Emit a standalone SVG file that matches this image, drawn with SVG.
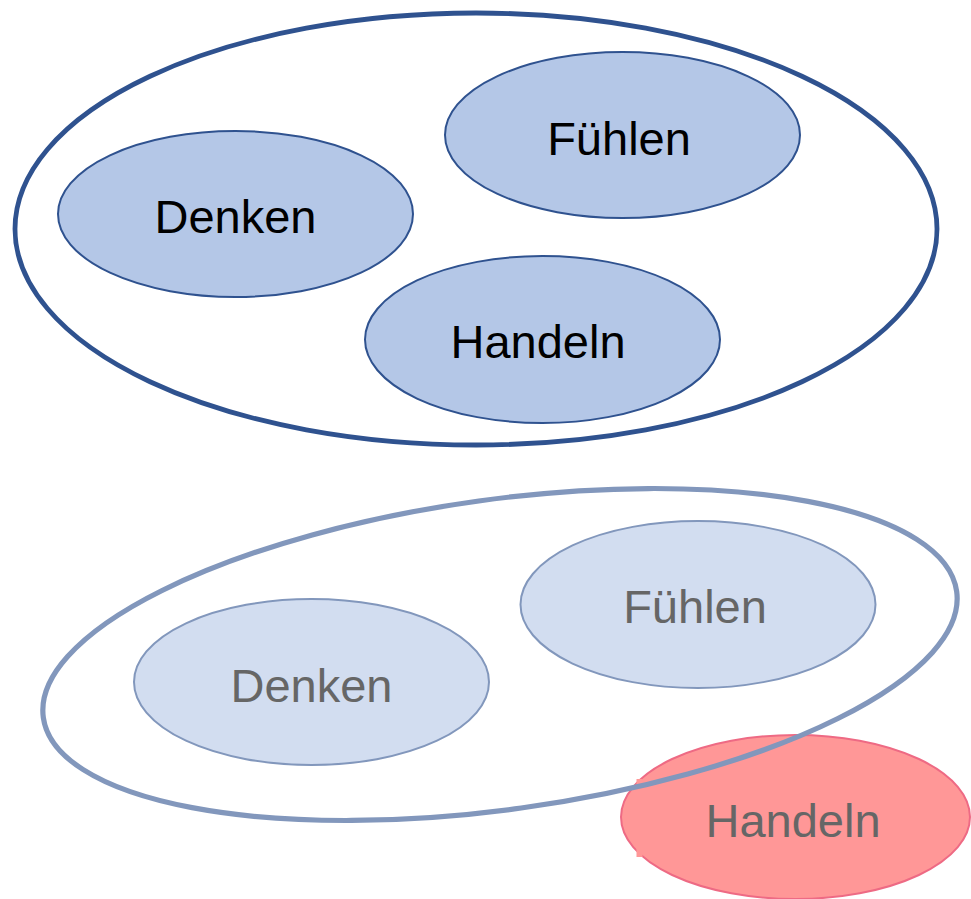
<svg xmlns="http://www.w3.org/2000/svg" width="971" height="899" viewBox="0 0 971 899">
<style>
.outer{fill:none;stroke:#2F528F;stroke-width:4.8}
.outer2{fill:none;stroke:#8297BC;stroke-width:5.2}
.node{fill:#B4C7E7;stroke:#2F528F;stroke-width:2}
.node2{fill:#D2DDF0;stroke:#8297BC;stroke-width:2}
.lbl{font-family:"Liberation Sans",Arial,sans-serif;font-size:47px;text-anchor:middle;fill:#000}
.lbl2{font-family:"Liberation Sans",Arial,sans-serif;font-size:47px;text-anchor:middle;fill:#666666}
.red{fill:#FF9797;stroke:#EE6A84;stroke-width:2}
</style>
<rect width="971" height="899" fill="#ffffff"/>
<g id="top">
  <ellipse id="top-container" class="outer" cx="476" cy="229" rx="461" ry="216"/>
  <g id="top-denken">
    <ellipse class="node" cx="235.5" cy="214" rx="177.5" ry="83"/>
    <text class="lbl" x="235.5" y="233.3">Denken</text>
  </g>
  <g id="top-fuehlen">
    <ellipse class="node" cx="622.5" cy="135" rx="177.5" ry="83"/>
    <text class="lbl" x="619" y="155">Fühlen</text>
  </g>
  <g id="top-handeln">
    <ellipse class="node" cx="542.5" cy="339.5" rx="177.5" ry="83.5"/>
    <text class="lbl" x="538" y="358">Handeln</text>
  </g>
</g>
<g id="bottom-handeln">
  <ellipse class="red" cx="795.5" cy="817" rx="174.5" ry="82"/>
  <rect x="636.5" y="779" width="6" height="78" fill="#FF9797"/>
  <text class="lbl2" x="793" y="836.7">Handeln</text>
</g>
<g id="bottom">
  <ellipse id="bottom-container" class="outer2" cx="500" cy="654.5" rx="461" ry="155" transform="rotate(-7.86 500 654.5)"/>
  <g id="bottom-denken">
    <ellipse class="node2" cx="311.5" cy="682" rx="177.5" ry="83"/>
    <text class="lbl2" x="311.5" y="701.7">Denken</text>
  </g>
  <g id="bottom-fuehlen">
    <ellipse class="node2" cx="698" cy="604.5" rx="177.5" ry="83.5"/>
    <text class="lbl2" x="695" y="623.3">Fühlen</text>
  </g>
</g>
<g id="connectors"/>
</svg>
